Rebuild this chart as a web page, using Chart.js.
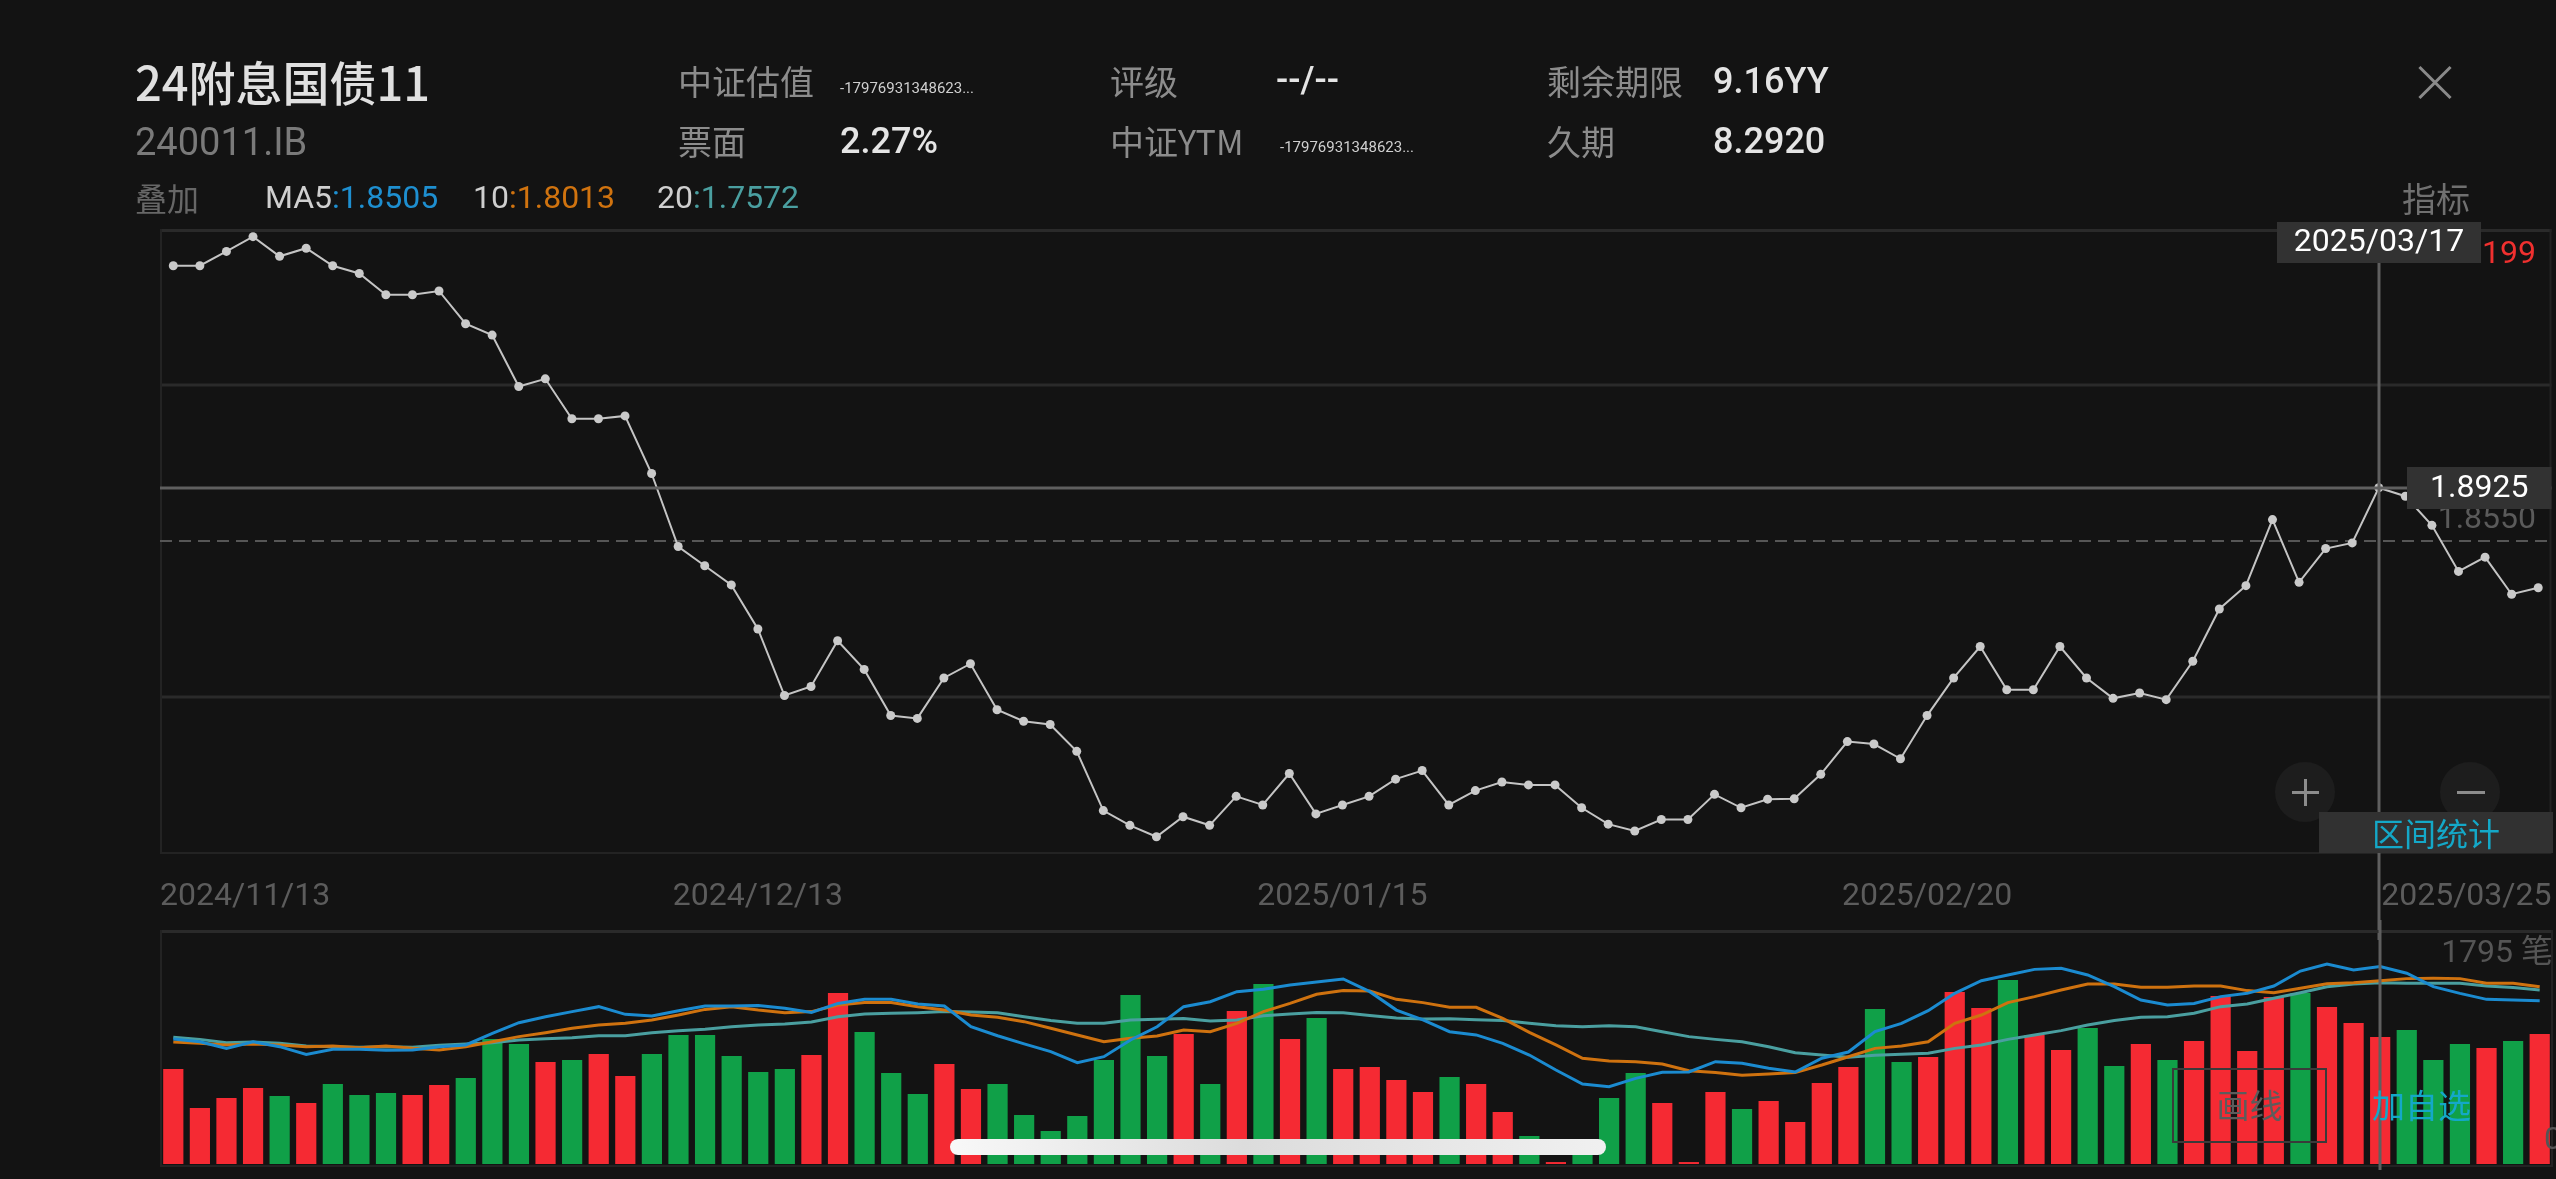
<!DOCTYPE html>
<html>
<head>
<meta charset="utf-8">
<script src="https://cdn.jsdelivr.net/npm/chart.js@4.4.1/dist/chart.umd.min.js"></script>
<style>
html, body { margin: 0; padding: 0; background: #131313; width: 2556px; height: 1179px; overflow: hidden; }
#wrap { position: relative; width: 2556px; height: 1179px; font-family: Roboto, "Noto Sans CJK SC", sans-serif; }
canvas { position: absolute; left: 0; }
#price { top: 0; }
#vol { top: 920px; }
.t { position: absolute; white-space: nowrap; line-height: 1; }
.cjk { font-family: "Noto Sans CJK SC", sans-serif; }
.lbl { font-size: 34px; color: #8c8c8c; }
.val { font-size: 36px; color: #e4e4e4; font-weight: 500; }
.tiny { font-size: 15px; color: #d0d0d0; }
.circ { position: absolute; width: 60px; height: 60px; border-radius: 30px; background: #1d1d1d; }
.bar { position: absolute; background: #8c8c8c; }
</style>
</head>
<body>
<div id="wrap">
  <canvas id="price" width="2556" height="940"></canvas>
  <canvas id="vol" width="2556" height="259"></canvas>

  <!-- header -->
  <div class="t cjk" style="left:135px;top:57px;font-size:47px;color:#e0e0e0;font-weight:500;">24附息国债11</div>
  <div class="t" style="left:135px;top:123px;font-size:38px;color:#7a7a7a;">240011.IB</div>
  <div class="t cjk" style="left:135px;top:181px;font-size:32px;color:#676767;">叠加</div>
  <div class="t" style="left:265px;top:181px;font-size:32px;"><span style="color:#cfcfcf">MA5</span><span style="color:#1e8fd0">:1.8505</span></div>
  <div class="t" style="left:473px;top:181px;font-size:32px;"><span style="color:#cfcfcf">10</span><span style="color:#d0730f">:1.8013</span></div>
  <div class="t" style="left:657px;top:181px;font-size:32px;"><span style="color:#cfcfcf">20</span><span style="color:#4a9fa0">:1.7572</span></div>

  <div class="t cjk lbl" style="left:678px;top:64px;">中证估值</div>
  <div class="t tiny" style="left:840px;top:81px;">-17976931348623...</div>
  <div class="t cjk lbl" style="left:678px;top:124px;">票面</div>
  <div class="t val" style="left:840px;top:123px;">2.27%</div>

  <div class="t cjk lbl" style="left:1110px;top:64px;">评级</div>
  <div class="t val" style="left:1276px;top:62px;">--/--</div>
  <div class="t cjk lbl" style="left:1110px;top:124px;">中证YTM</div>
  <div class="t tiny" style="left:1280px;top:140px;">-17976931348623...</div>

  <div class="t cjk lbl" style="left:1547px;top:64px;">剩余期限</div>
  <div class="t val" style="left:1713px;top:63px;">9.16YY</div>
  <div class="t cjk lbl" style="left:1547px;top:124px;">久期</div>
  <div class="t val" style="left:1713px;top:123px;">8.2920</div>

  <div class="bar" style="left:2413px;top:81px;width:44px;height:3px;background:#8a8a8a;transform:rotate(45deg);"></div>
  <div class="bar" style="left:2413px;top:81px;width:44px;height:3px;background:#8a8a8a;transform:rotate(-45deg);"></div>
  <div class="t cjk" style="left:2402px;top:181px;font-size:34px;color:#707070;">指标</div>

  <!-- zoom buttons and range box -->
  <div class="circ" style="left:2275px;top:762px;"></div>
  <div class="bar" style="left:2292px;top:791px;width:27px;height:3px;"></div>
  <div class="bar" style="left:2304px;top:779px;width:3px;height:27px;"></div>
  <div class="circ" style="left:2440px;top:762px;"></div>
  <div class="bar" style="left:2457px;top:791px;width:28px;height:3px;"></div>
  <div style="position:absolute;left:2319px;top:812px;width:234px;height:41px;background:#313131;"></div>
  <div class="t cjk" style="left:2319px;top:816px;width:234px;text-align:center;font-size:32px;color:#14a8c8;">区间统计</div>

  <!-- bottom controls -->
  <div style="position:absolute;left:950px;top:1139px;width:656px;height:16px;border-radius:8px;background:linear-gradient(90deg,#f8f8f8,#dcdcdc 45%,#f0f0f0);"></div>
  <div style="position:absolute;left:2172px;top:1068px;width:151px;height:71px;border:2px solid #3a3a3a;"></div>
  <div class="t cjk" style="left:2172px;top:1088px;width:155px;text-align:center;font-size:33px;color:#5c5c5c;">画线</div>
  <div class="t cjk" style="left:2372px;top:1088px;font-size:33px;color:#14a8c8;">加自选</div>
</div>

<script>
// trading days shown in the window
const dates = [
  '2024/11/13','2024/11/14','2024/11/15','2024/11/18','2024/11/19','2024/11/20','2024/11/21','2024/11/22','2024/11/25','2024/11/26',
  '2024/11/27','2024/11/28','2024/11/29','2024/12/02','2024/12/03','2024/12/04','2024/12/05','2024/12/06','2024/12/09','2024/12/10',
  '2024/12/11','2024/12/12','2024/12/13','2024/12/16','2024/12/17','2024/12/18','2024/12/19','2024/12/20','2024/12/23','2024/12/24',
  '2024/12/25','2024/12/26','2024/12/27','2024/12/30','2024/12/31','2025/01/02','2025/01/03','2025/01/06','2025/01/07','2025/01/08',
  '2025/01/09','2025/01/10','2025/01/13','2025/01/14','2025/01/15','2025/01/16','2025/01/17','2025/01/20','2025/01/21','2025/01/22',
  '2025/01/23','2025/01/24','2025/01/26','2025/01/27','2025/02/05','2025/02/06','2025/02/07','2025/02/08','2025/02/10','2025/02/11',
  '2025/02/12','2025/02/13','2025/02/14','2025/02/17','2025/02/18','2025/02/19','2025/02/20','2025/02/21','2025/02/24','2025/02/25',
  '2025/02/26','2025/02/27','2025/02/28','2025/03/03','2025/03/04','2025/03/05','2025/03/06','2025/03/07','2025/03/10','2025/03/11',
  '2025/03/12','2025/03/13','2025/03/14','2025/03/17','2025/03/18','2025/03/19','2025/03/20','2025/03/21','2025/03/24','2025/03/25'
];

// yield line (%)
const price = [
  2.0887, 2.0887, 2.1009, 2.1134, 2.0967, 2.1036, 2.0887, 2.0821, 2.0641, 2.0641,
  2.0673, 2.0395, 2.0298, 1.9862, 1.9927, 1.9588, 1.9588, 1.9612, 1.9123, 1.8503,
  1.8340, 1.8177, 1.7803, 1.7238, 1.7315, 1.7703, 1.7460, 1.7068, 1.7044, 1.7387,
  1.7508, 1.7117, 1.7020, 1.6992, 1.6764, 1.6261, 1.6136, 1.6039, 1.6209, 1.6136,
  1.6382, 1.6309, 1.6576, 1.6233, 1.6309, 1.6382, 1.6528, 1.6601, 1.6309, 1.6431,
  1.6504, 1.6479, 1.6479, 1.6285, 1.6146, 1.6088, 1.6185, 1.6185, 1.6399, 1.6285,
  1.6358, 1.6361, 1.6569, 1.6847, 1.6826, 1.6701, 1.7068, 1.7387, 1.7654, 1.7287,
  1.7287, 1.7654, 1.7387, 1.7214, 1.7259, 1.7203, 1.7529, 1.7973, 1.8171, 1.8732,
  1.8199, 1.8486, 1.8534, 1.9002, 1.8930, 1.8683, 1.8292, 1.8413, 1.8098, 1.8153
];

// trade counts (笔) and direction: 1 = up (red), -1 = down (green)
const volume = [
  729, 430, 506, 583, 522, 468, 614, 529, 545, 529,
  606, 660, 959, 921, 782, 798, 844, 675, 844, 990,
  990, 828, 706, 729, 836, 1312, 1013, 698, 537, 767,
  575, 614, 376, 253, 368, 798, 1296, 828, 997, 614,
  1174, 1381, 959, 1120, 729, 744, 644, 552, 667, 614,
  399, 215, 15, 130, 506, 698, 468, 15, 552, 422,
  483, 322, 621, 744, 1189, 782, 821, 1319, 1197, 1411,
  990, 874, 1043, 752, 921, 798, 944, 1289, 867, 1281,
  1312, 1204, 1082, 974, 1028, 798, 921, 890, 944, 997
];
const volDir = [
  1, 1, 1, 1, -1, 1, -1, -1, -1, 1,
  1, -1, -1, -1, 1, -1, 1, 1, -1, -1,
  -1, -1, -1, -1, 1, 1, -1, -1, -1, 1,
  1, -1, -1, -1, -1, -1, -1, -1, 1, -1,
  1, -1, 1, -1, 1, 1, 1, 1, -1, 1,
  1, -1, 1, -1, -1, -1, 1, 1, 1, -1,
  1, 1, 1, 1, -1, -1, 1, 1, 1, -1,
  1, 1, -1, -1, 1, -1, 1, 1, 1, 1,
  -1, 1, 1, 1, -1, -1, -1, 1, -1, 1
];

// averages drawn in the lower pane
const ma5 = [
  959, 938, 887, 938, 900, 841, 880, 880, 872, 874,
  900, 913, 1002, 1084, 1130, 1169, 1207, 1148, 1135, 1176,
  1212, 1212, 1215, 1194, 1163, 1232, 1263, 1263, 1227, 1212,
  1053, 984, 921, 862, 777, 823, 951, 1053, 1207, 1245,
  1322, 1340, 1373, 1396, 1419, 1322, 1181, 1105, 1015, 990,
  926, 836, 721, 614, 593, 657, 703, 706, 785, 772,
  734, 706, 811, 859, 1015, 1079, 1176, 1309, 1406, 1450,
  1493, 1501, 1450, 1360, 1258, 1220, 1232, 1284, 1309, 1365,
  1480, 1534, 1488, 1514, 1463, 1360, 1309, 1263, 1258, 1253
];
const ma10 = [
  936, 926, 913, 921, 913, 900, 905, 892, 905, 887,
  874, 900, 938, 977, 1007, 1041, 1066, 1079, 1105, 1143,
  1186, 1207, 1181, 1161, 1169, 1220, 1238, 1238, 1207, 1181,
  1143, 1125, 1092, 1041, 990, 938, 964, 982, 1028, 1015,
  1079, 1169, 1232, 1302, 1330, 1327, 1263, 1238, 1202, 1202,
  1117, 1010, 913, 811, 790, 785, 767, 716, 701, 680,
  690, 701, 759, 823, 887, 905, 938, 1079, 1143, 1238,
  1284, 1335, 1381, 1381, 1355, 1355, 1365, 1365, 1330, 1314,
  1348, 1383, 1391, 1406, 1422, 1424, 1422, 1386, 1386, 1360
];
const ma20 = [
  972, 956, 931, 936, 926, 905, 900, 895, 900, 895,
  910, 921, 931, 951, 961, 969, 984, 984, 1007, 1023,
  1033, 1053, 1066, 1074, 1089, 1130, 1151, 1156, 1161, 1169,
  1166, 1161, 1130, 1100, 1079, 1079, 1105, 1110, 1117, 1097,
  1105, 1138, 1151, 1163, 1161, 1140, 1120, 1112, 1115, 1107,
  1100, 1079, 1061, 1053, 1061, 1053, 1015, 977, 956, 938,
  900, 854, 836, 818, 834, 841, 849, 887, 913, 956,
  990, 1023, 1066, 1100, 1125, 1130, 1156, 1207, 1227, 1271,
  1314, 1360, 1381, 1391, 1386, 1386, 1386, 1365, 1353, 1335
];

const xTicks = ['2024/11/13', '2024/12/13', '2025/01/15', '2025/02/20', '2025/03/25'];
const yMin = 1.5901, yMax = 2.1199;
const volMax = 1795;
const crossIdx = 83;
const crossLabel = '1.8925';

const gridCol = '#2a2a2a';
const crossCol = '#5f5f5f';
const upCol = '#f52a33';
const downCol = '#10a048';

function hline(ctx, x1, x2, y) { ctx.beginPath(); ctx.moveTo(x1, y); ctx.lineTo(x2, y); ctx.stroke(); }
function vline(ctx, x, y1, y2) { ctx.beginPath(); ctx.moveTo(x, y1); ctx.lineTo(x, y2); ctx.stroke(); }

const pricePanel = {
  id: 'pricePanel',
  beforeDatasetsDraw(chart) {
    const { ctx, chartArea: a, scales: { y } } = chart;
    const q = (yMax - yMin) / 4;
    ctx.save();
    ctx.strokeStyle = gridCol;
    ctx.lineWidth = 3;
    hline(ctx, a.left, a.right, a.top + 1.5);
    hline(ctx, a.left, a.right, Math.round(y.getPixelForValue(yMax - q)));
    hline(ctx, a.left, a.right, Math.round(y.getPixelForValue(yMin + q)));
    ctx.lineWidth = 2;
    ctx.strokeStyle = '#232323';
    hline(ctx, a.left, a.right, a.bottom);
    vline(ctx, a.left + 1, a.top, a.bottom);
    vline(ctx, a.right - 1, a.top, a.bottom);
    ctx.strokeStyle = '#565656';
    ctx.setLineDash([12, 7]);
    hline(ctx, a.left, a.right, Math.round(y.getPixelForValue((yMin + yMax) / 2)));
    ctx.restore();
  },
  afterDatasetsDraw(chart) {
    const { ctx, chartArea: a, scales: { x, y } } = chart;
    ctx.save();
    ctx.font = '32px Roboto';
    ctx.textBaseline = 'middle';

    // x dates
    ctx.fillStyle = '#5c5c5c';
    ctx.textAlign = 'left';
    xTicks.forEach(d => {
      const i = dates.indexOf(d);
      const w = ctx.measureText(d).width;
      let left = x.getPixelForValue(i) - w / 2;
      left = Math.max(a.left, Math.min(a.right - w, left));
      ctx.fillText(d, left, 897);
    });

    // right side value labels
    ctx.textAlign = 'right';
    ctx.fillStyle = '#f0302f';
    ctx.fillText(yMax.toFixed(4), 2536, 255);
    ctx.fillStyle = '#5a5a5a';
    ctx.fillText(((yMin + yMax) / 2).toFixed(4), 2536, 520);

    // crosshair
    const cx = Math.round(x.getPixelForValue(crossIdx));
    const cy = Math.round(y.getPixelForValue(price[crossIdx]));
    ctx.strokeStyle = crossCol;
    ctx.lineWidth = 3;
    vline(ctx, cx, 222, chart.height);
    hline(ctx, a.left, a.right, cy);

    ctx.textAlign = 'center';
    ctx.fillStyle = '#323232';
    ctx.fillRect(cx - 102, 222, 204, 41);
    ctx.fillRect(2407, cy - 21, a.right - 2407, 42);
    ctx.fillStyle = '#ffffff';
    ctx.fillText(dates[crossIdx], cx, 243);
    ctx.fillText(crossLabel, (2407 + a.right) / 2, cy + 1);
    ctx.restore();
  }
};

const volPanel = {
  id: 'volPanel',
  beforeDatasetsDraw(chart) {
    const { ctx, chartArea: a } = chart;
    ctx.save();
    ctx.strokeStyle = gridCol;
    ctx.lineWidth = 3;
    hline(ctx, a.left, a.right, a.top + 1.5);
    ctx.lineWidth = 2;
    ctx.strokeStyle = '#232323';
    hline(ctx, a.left, a.right, a.bottom + 2);
    vline(ctx, a.left + 1, a.top, a.bottom + 2);
    vline(ctx, a.right - 1, a.top, a.bottom + 2);
    ctx.restore();
  },
  afterDatasetsDraw(chart) {
    const { ctx, chartArea: a, scales: { x } } = chart;
    ctx.save();
    const cx = Math.round(x.getPixelForValue(crossIdx));
    ctx.strokeStyle = crossCol;
    ctx.lineWidth = 3;
    vline(ctx, cx, 0, a.bottom + 6);
    ctx.font = '32px Roboto, "Noto Sans CJK SC"';
    ctx.fillStyle = '#555555';
    ctx.textAlign = 'right';
    ctx.textBaseline = 'middle';
    ctx.fillText(volMax + ' 笔', a.right, 34);
    ctx.fillText('0', 2562, 221);
    ctx.restore();
  }
};

new Chart(document.getElementById('price'), {
  type: 'line',
  data: {
    labels: dates,
    datasets: [{
      data: price,
      borderColor: '#c4c4c4',
      borderWidth: 2,
      pointRadius: 4.5,
      pointBackgroundColor: '#cacaca',
      pointBorderWidth: 0,
      tension: 0
    }]
  },
  options: {
    responsive: false,
    animation: false,
    devicePixelRatio: 1,
    layout: { padding: { left: 160, right: 3, top: 229, bottom: 87 } },
    plugins: { legend: { display: false }, tooltip: { enabled: false } },
    scales: {
      x: { display: false, offset: true },
      y: { display: false, min: yMin, max: yMax }
    }
  },
  plugins: [pricePanel]
});

const lineSet = (data, color) => ({
  type: 'line', data: data, borderColor: color, borderWidth: 3,
  pointRadius: 0, tension: 0, order: 1
});

new Chart(document.getElementById('vol'), {
  type: 'bar',
  data: {
    labels: dates,
    datasets: [
      {
        type: 'bar',
        data: volume,
        backgroundColor: volDir.map(d => d > 0 ? upCol : downCol),
        barPercentage: 0.76,
        categoryPercentage: 1.0,
        order: 2
      },
      lineSet(ma5, '#1b8bd0'),
      lineSet(ma10, '#cf720f'),
      lineSet(ma20, '#4a9fa0')
    ]
  },
  options: {
    responsive: false,
    animation: false,
    devicePixelRatio: 1,
    layout: { padding: { left: 160, right: 3, top: 10, bottom: 15 } },
    plugins: { legend: { display: false }, tooltip: { enabled: false } },
    scales: {
      x: { display: false, offset: true },
      y: { display: false, min: 0, max: volMax }
    }
  },
  plugins: [volPanel]
});
</script>
</body>
</html>
